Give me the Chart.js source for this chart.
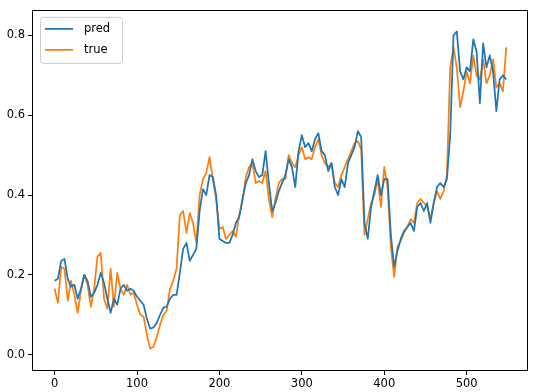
<!DOCTYPE html>
<html>
<head>
<meta charset="utf-8">
<script src="https://cdn.jsdelivr.net/npm/chart.js@4.4.1/dist/chart.umd.min.js"></script>
<style>
  html, body { margin: 0; padding: 0; background: #fff; }
  #wrap { width: 536px; height: 392px; }
</style>
</head>
<body>
<div id="wrap"><canvas id="predChart" width="536" height="392"></canvas></div>
<script>
// one value every STEP samples
const STEP = 4;

const pred = [
  0.185, 0.19, 0.235, 0.24, 0.19, 0.17, 0.175, 0.14, 0.165, 0.20,
  0.185, 0.145, 0.155, 0.175, 0.205, 0.18, 0.14, 0.105, 0.14, 0.125,
  0.165, 0.175, 0.16, 0.165, 0.16, 0.145, 0.135, 0.125, 0.09, 0.065,
  0.068, 0.08, 0.10, 0.118, 0.12, 0.14, 0.15, 0.15, 0.205, 0.265,
  0.28, 0.235, 0.25, 0.265, 0.36, 0.415, 0.40, 0.45, 0.445, 0.40,
  0.29, 0.285, 0.28, 0.28, 0.30, 0.33, 0.345, 0.39, 0.43, 0.45,
  0.49, 0.46, 0.445, 0.45, 0.51, 0.43, 0.36, 0.38, 0.41, 0.43,
  0.45, 0.49, 0.47, 0.42, 0.51, 0.55, 0.52, 0.53, 0.51, 0.54,
  0.555, 0.51, 0.50, 0.46, 0.48, 0.42, 0.40, 0.44, 0.42, 0.48,
  0.50, 0.52, 0.56, 0.545, 0.33, 0.29, 0.37, 0.41, 0.45, 0.40,
  0.44, 0.44, 0.30, 0.22, 0.26, 0.29, 0.31, 0.32, 0.33, 0.31,
  0.37, 0.38, 0.36, 0.38, 0.33, 0.38, 0.42, 0.43, 0.42, 0.44,
  0.55, 0.80, 0.81, 0.71, 0.69, 0.72, 0.71, 0.79, 0.76, 0.63,
  0.78, 0.72, 0.75, 0.71, 0.61, 0.69, 0.70, 0.69
];

const truth = [
  0.166, 0.13, 0.22, 0.215, 0.135, 0.185, 0.15, 0.105, 0.16, 0.20,
  0.175, 0.12, 0.165, 0.245, 0.255, 0.14, 0.115, 0.215, 0.12, 0.205,
  0.165, 0.15, 0.175, 0.15, 0.155, 0.125, 0.10, 0.095, 0.05, 0.015,
  0.02, 0.045, 0.075, 0.10, 0.11, 0.165, 0.185, 0.215, 0.35, 0.36,
  0.305, 0.355, 0.33, 0.28, 0.40, 0.44, 0.455, 0.495, 0.44, 0.39,
  0.315, 0.32, 0.29, 0.30, 0.31, 0.295, 0.35, 0.385, 0.445, 0.47,
  0.48, 0.43, 0.435, 0.43, 0.46, 0.39, 0.345, 0.39, 0.43, 0.44,
  0.44, 0.50, 0.48, 0.47, 0.50, 0.52, 0.49, 0.495, 0.49, 0.52,
  0.54, 0.50, 0.48, 0.47, 0.48, 0.43, 0.42, 0.45, 0.47, 0.49,
  0.51, 0.53, 0.535, 0.515, 0.30, 0.34, 0.38, 0.40, 0.44, 0.37,
  0.47, 0.42, 0.27, 0.195, 0.27, 0.285, 0.305, 0.32, 0.34, 0.33,
  0.38, 0.39, 0.38, 0.37, 0.34, 0.38, 0.41, 0.39, 0.41, 0.45,
  0.72, 0.77, 0.72, 0.62, 0.66, 0.71, 0.68, 0.75, 0.70, 0.69,
  0.74, 0.68, 0.70, 0.74, 0.67, 0.68, 0.66, 0.77
];

const seriesNames = ['pred', 'true'];
const seriesColors = ['#1f77b4', '#ff7f0e'];
const xTickVals = [0, 100, 200, 300, 400, 500];
const yTickVals = [0.0, 0.2, 0.4, 0.6, 0.8];

const FONT = { family: '"DejaVu Sans", sans-serif', size: 11.5 };

function toPoints(values) {
  return values.map((v, i) => ({ x: i * STEP, y: v }));
}

// matplotlib style box + legend in the upper left corner
const mplFrame = {
  id: 'mplFrame',
  afterDraw(chart) {
    const { ctx, chartArea: a } = chart;
    ctx.save();
    ctx.strokeStyle = '#000';
    ctx.lineWidth = 1;
    ctx.strokeRect(Math.round(a.left) + 0.5, Math.round(a.top) + 0.5,
      Math.round(a.right - a.left) - 1, Math.round(a.bottom - a.top) - 1);

    const bx = a.left + 8, by = a.top + 7, bw = 82, bh = 46, r = 3;
    ctx.globalAlpha = 0.8;
    ctx.fillStyle = '#fff';
    ctx.beginPath();
    ctx.roundRect(bx + 0.5, by + 0.5, bw, bh, r);
    ctx.fill();
    ctx.globalAlpha = 1;
    ctx.strokeStyle = '#cccccc';
    ctx.stroke();

    ctx.font = FONT.size + 'px ' + FONT.family;
    ctx.textBaseline = 'middle';
    ctx.textAlign = 'left';
    chart.data.datasets.forEach((ds, i) => {
      const y = by + 12 + i * 21;
      ctx.strokeStyle = ds.borderColor;
      ctx.lineWidth = 1.75;
      ctx.beginPath();
      ctx.moveTo(bx + 5, y);
      ctx.lineTo(bx + 33, y);
      ctx.stroke();
      ctx.fillStyle = '#000';
      ctx.fillText(ds.label, bx + 44, y);
    });
    ctx.restore();
  }
};

new Chart(document.getElementById('predChart'), {
  type: 'line',
  data: {
    datasets: [
      { label: seriesNames[0], data: toPoints(pred), borderColor: seriesColors[0] },
      { label: seriesNames[1], data: toPoints(truth), borderColor: seriesColors[1] }
    ]
  },
  options: {
    responsive: false,
    animation: false,
    devicePixelRatio: 1,
    layout: { padding: { top: 3, right: 8, left: 0, bottom: 0 } },
    elements: {
      line: { borderWidth: 1.75, tension: 0, fill: false, borderJoinStyle: 'round' },
      point: { radius: 0 }
    },
    plugins: { legend: { display: false }, tooltip: { enabled: false } },
    scales: {
      x: {
        type: 'linear',
        min: -27.4,
        max: 574.4,
        afterBuildTicks: s => { s.ticks = xTickVals.map(v => ({ value: v })); },
        afterFit: s => { s.height = 21; },
        grid: { display: true, drawOnChartArea: false, drawTicks: true, tickLength: 4, color: '#000' },
        border: { display: false },
        ticks: { color: '#000', font: FONT, padding: 2, maxRotation: 0, autoSkip: false,
                 callback: v => String(v) }
      },
      y: {
        min: -0.041,
        max: 0.864,
        afterBuildTicks: s => { s.ticks = yTickVals.map(v => ({ value: v })); },
        afterFit: s => { s.width = 32; },
        grid: { display: true, drawOnChartArea: false, drawTicks: true, tickLength: 4, color: '#000' },
        border: { display: false },
        ticks: { color: '#000', font: FONT, padding: 3, callback: v => v.toFixed(1) }
      }
    }
  },
  plugins: [mplFrame]
});
</script>
</body>
</html>
